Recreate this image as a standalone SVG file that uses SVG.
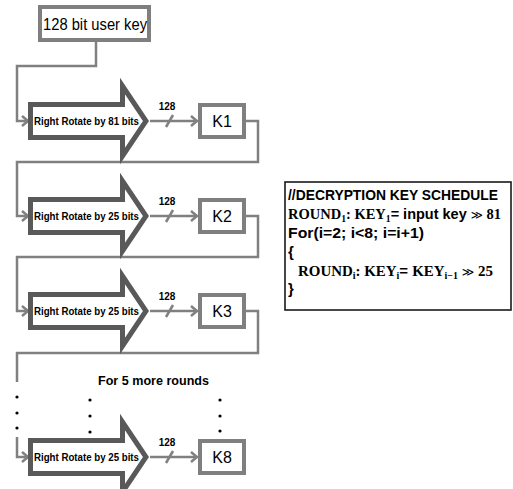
<svg xmlns="http://www.w3.org/2000/svg" width="513" height="489" viewBox="0 0 513 489">
  <style>
    .box { fill: #ffffff; stroke: #7f7f7f; stroke-width: 4; }
    .big { fill: #ffffff; stroke: #595959; stroke-width: 5; stroke-linejoin: miter; }
    .wire { fill: none; stroke: #808080; stroke-width: 2.5; }
    .lbl { font-family: "Liberation Sans", Arial, sans-serif; fill: #000; }
    .op { font-family: "Liberation Sans", Arial, sans-serif; font-weight: bold; font-size: 11.5px; }
    .bits { font-family: "Liberation Sans", Arial, sans-serif; font-weight: bold; font-size: 10px; text-anchor: middle; }
    .key { font-family: "Liberation Sans", Arial, sans-serif; font-size: 16px; text-anchor: middle; }
    .dot { fill: #000; }
    .code { font-family: "Liberation Sans", Arial, sans-serif; font-weight: bold; font-size: 15px; fill: #000; }
    .math { font-family: "Liberation Serif", "Times New Roman", serif; font-weight: bold; }
    .rel { font-family: "DejaVu Sans", sans-serif; font-weight: normal; font-size: 12px; }
  </style>
  <defs>
    <marker id="head" markerUnits="userSpaceOnUse" markerWidth="10" markerHeight="12" refX="7" refY="6" orient="auto">
      <path d="M1,1 L7,6 L1,11" fill="none" stroke="#808080" stroke-width="2.5"/>
    </marker>
    <path id="rot" d="M30.5,-16.5 H122.5 V-35 L146,0 L122.5,35 V16.5 H30.5 Z"/>
  </defs>

  <!-- connectors -->
  <g id="connectors">
    <path class="wire" d="M96,42 V66 H17 V121 H28" marker-end="url(#head)"/>
    <path class="wire" d="M150,121 H197" marker-end="url(#head)"/>
    <path class="wire" d="M166,127 L173,115"/>
    <path class="wire" d="M246,121 H258 V162 H17 V216 H28" marker-end="url(#head)"/>
    <path class="wire" d="M150,216 H197" marker-end="url(#head)"/>
    <path class="wire" d="M166,222 L173,210"/>
    <path class="wire" d="M246,216 H258 V257 H17 V311 H28" marker-end="url(#head)"/>
    <path class="wire" d="M150,311 H197" marker-end="url(#head)"/>
    <path class="wire" d="M166,317 L173,305"/>
    <path class="wire" d="M246,311 H258 V353 H17 V382"/>
    <path class="wire" d="M17,437 V457 H28" marker-end="url(#head)"/>
    <path class="wire" d="M150,457 H197" marker-end="url(#head)"/>
    <path class="wire" d="M166,463 L173,451"/>
    <text class="bits" x="167" y="110">128</text>
    <text class="bits" x="167" y="205">128</text>
    <text class="bits" x="167" y="300">128</text>
    <text class="bits" x="167" y="446">128</text>
  </g>

  <!-- input key -->
  <g id="user-key">
    <rect class="box" x="40" y="7" width="109" height="33"/>
    <text class="lbl" x="43" y="30" font-size="17" textLength="104" lengthAdjust="spacingAndGlyphs">128 bit user key</text>
  </g>

  <!-- rotation stages -->
  <g id="rotate-1" transform="translate(0,121)">
    <use href="#rot" class="big"/>
    <text class="op" x="34" y="4" textLength="105" lengthAdjust="spacingAndGlyphs">Right Rotate by 81 bits</text>
  </g>
  <g id="rotate-2" transform="translate(0,216)">
    <use href="#rot" class="big"/>
    <text class="op" x="34" y="4" textLength="105" lengthAdjust="spacingAndGlyphs">Right Rotate by 25 bits</text>
  </g>
  <g id="rotate-3" transform="translate(0,311)">
    <use href="#rot" class="big"/>
    <text class="op" x="34" y="4" textLength="105" lengthAdjust="spacingAndGlyphs">Right Rotate by 25 bits</text>
  </g>
  <g id="rotate-8" transform="translate(0,457)">
    <use href="#rot" class="big"/>
    <text class="op" x="34" y="4" textLength="105" lengthAdjust="spacingAndGlyphs">Right Rotate by 25 bits</text>
  </g>

  <!-- round keys -->
  <g id="k1">
    <rect class="box" x="200" y="105" width="44" height="32"/>
    <text class="key" x="222" y="127">K1</text>
  </g>
  <g id="k2">
    <rect class="box" x="200" y="200" width="44" height="32"/>
    <text class="key" x="222" y="222">K2</text>
  </g>
  <g id="k3">
    <rect class="box" x="200" y="295" width="44" height="32"/>
    <text class="key" x="222" y="317">K3</text>
  </g>
  <g id="k8">
    <rect class="box" x="200" y="441" width="44" height="32"/>
    <text class="key" x="222" y="463">K8</text>
  </g>

  <!-- elided rounds -->
  <g id="more-rounds">
    <text class="lbl" x="98" y="385" font-size="13" font-weight="bold" textLength="111" lengthAdjust="spacingAndGlyphs">For 5 more rounds</text>
    <circle class="dot" cx="17" cy="397" r="1.6"/>
    <circle class="dot" cx="17" cy="413" r="1.6"/>
    <circle class="dot" cx="17" cy="428" r="1.6"/>
    <circle class="dot" cx="90" cy="400" r="1.6"/>
    <circle class="dot" cx="90" cy="416" r="1.6"/>
    <circle class="dot" cx="90" cy="432" r="1.6"/>
    <circle class="dot" cx="220" cy="400" r="1.6"/>
    <circle class="dot" cx="220" cy="416" r="1.6"/>
    <circle class="dot" cx="220" cy="431" r="1.6"/>
  </g>

  <!-- pseudo-code panel -->
  <g id="schedule">
    <rect x="285" y="182" width="226" height="128" fill="#ffffff" stroke="#1a1a1a" stroke-width="1.6"/>
    <text class="code" x="288" y="200" textLength="210" lengthAdjust="spacingAndGlyphs">//DECRYPTION KEY SCHEDULE</text>
    <text class="code" x="288" y="219" textLength="213" lengthAdjust="spacingAndGlyphs"><tspan class="math">ROUND</tspan><tspan class="math" font-size="10" dy="3">1</tspan><tspan class="math" dy="-3">: KEY</tspan><tspan class="math" font-size="10" dy="3">1</tspan><tspan dy="-3">=  input key </tspan><tspan class="rel">≫</tspan><tspan class="math"> 81</tspan></text>
    <text class="code" x="288" y="238" textLength="136" lengthAdjust="spacingAndGlyphs">For(i=2; i&lt;8; i=i+1)</text>
    <text class="code" x="288" y="257">{</text>
    <text class="code" x="298" y="276" textLength="195" lengthAdjust="spacingAndGlyphs"><tspan class="math">ROUND</tspan><tspan class="math" font-size="10" dy="3">i</tspan><tspan class="math" dy="-3">: KEY</tspan><tspan class="math" font-size="10" dy="3">i</tspan><tspan dy="-3">=  </tspan><tspan class="math">KEY</tspan><tspan class="math" font-size="10" dy="3">i−1</tspan><tspan class="rel" dy="-3"> ≫</tspan><tspan class="math"> 25</tspan></text>
    <text class="code" x="288" y="294">}</text>
  </g>
</svg>
